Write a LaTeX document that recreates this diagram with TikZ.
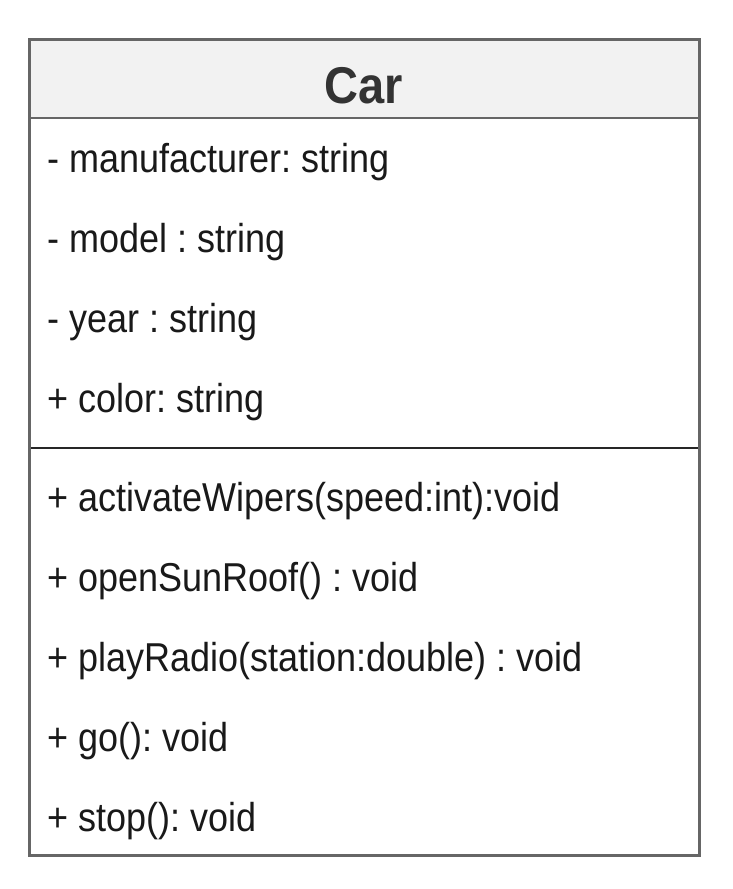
\documentclass[tikz,border=0pt]{standalone}
\usepackage{fontspec}
\setmainfont{Liberation Sans}
\frenchspacing
\begin{document}
\begin{tikzpicture}[x=1pt,y=-1pt,
  member/.style={anchor=base west,inner sep=0pt,text=black!90,font=\fontsize{36}{40}\selectfont\frenchspacing,yscale=1.12},
  title/.style={anchor=base,inner sep=0pt,text=black!80,font=\fontsize{47}{52}\selectfont\bfseries,yscale=1.1},
  frame/.style={draw=black!60,line width=3pt}]
\useasboundingbox (0,0) rectangle (733,889);
\fill[white] (0,0) rectangle (733,889);
% header
\fill[black!5] (29,39) rectangle (699,118);
\draw[black!60,line width=2.5pt] (29,118) -- (699,118);
\draw[black!85,line width=2pt] (29,448) -- (699,448);
\draw[frame] (29,39) rectangle (699,855);
\node[title] (car) at (364,103) {Car};
\node[member] (a1) at (47,172) {- manufacturer: string};
\node[member] (a2) at (47,252) {- model : string};
\node[member] (a3) at (47,332) {- year : string};
\node[member] (a4) at (47,412) {+ color: string};
\node[member] (m1) at (47,511) {+ activateWipers(speed:int):void};
\node[member] (m2) at (47,591) {+ openSunRoof() : void};
\node[member] (m3) at (47,671) {+ playRadio(station:double) : void};
\node[member] (m4) at (47,751) {+ go(): void};
\node[member] (m5) at (47,831) {+ stop(): void};
\end{tikzpicture}
\end{document}
